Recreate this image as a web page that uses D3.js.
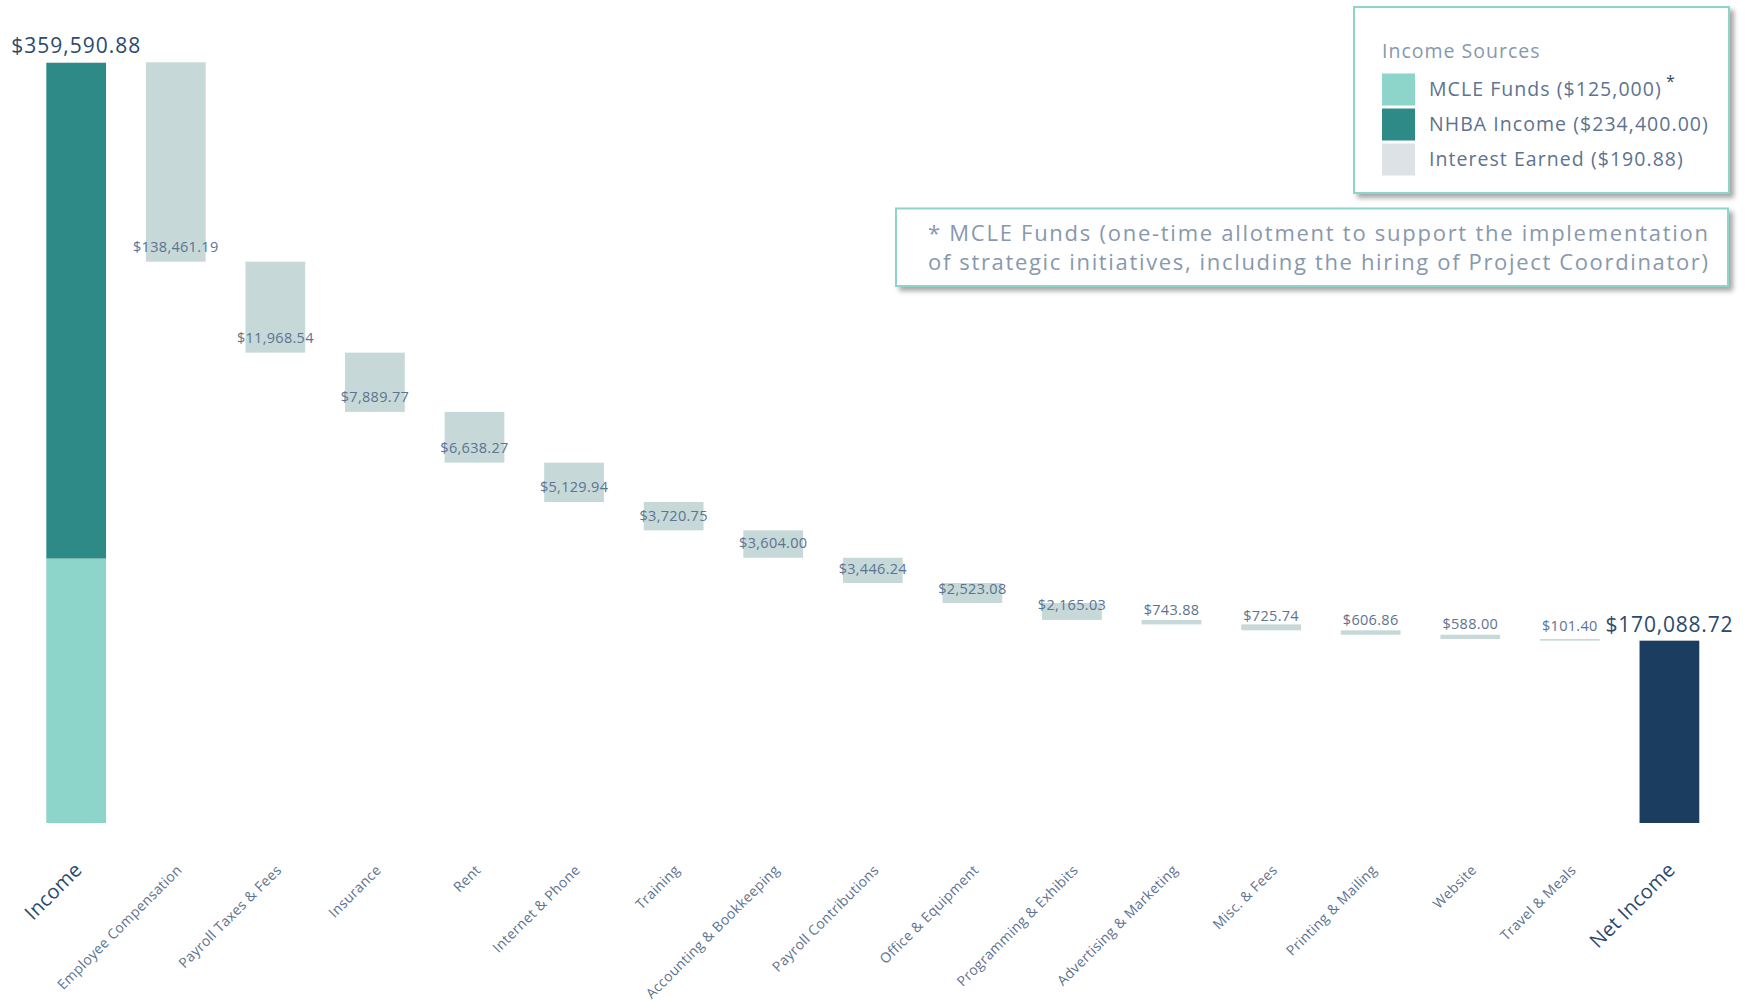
<!DOCTYPE html>
<html>
<head>
<meta charset="utf-8">
<script src="https://cdn.jsdelivr.net/npm/d3@7"></script>
<style>
  body { margin: 0; background: #fff; }
  svg { display: block; font-family: "Open Sans", sans-serif; }
</style>
</head>
<body>
<div id="chart"></div>
<script>
// categories along the x axis
const categories = ["Income", "Employee Compensation", "Payroll Taxes & Fees", "Insurance", "Rent",
    "Internet & Phone", "Training", "Accounting & Bookkeeping", "Payroll Contributions",
    "Office & Equipment", "Programming & Exhibits", "Advertising & Marketing", "Misc. & Fees",
    "Printing & Mailing", "Website", "Travel & Meals", "Net Income"];

// income stack (bottom to top)
const incomeSources = ["MCLE Funds ($125,000)", "NHBA Income ($234,400.00)", "Interest Earned ($190.88)"];
const incomeValues = [125000, 234400, 190.88];

// expense bar spans as drawn in the picture (the picture is not to scale with its labels)
const expenseDrawn = [94250, 43000, 28000, 24000, 18600, 13400, 12950, 11950, 9450, 8000, 2100, 2800, 2100, 2000, 800];
// expense labels as printed
const expenseLabels = ["$138,461.19", "$11,968.54", "$7,889.77", "$6,638.27", "$5,129.94", "$3,720.75",
    "$3,604.00", "$3,446.24", "$2,523.08", "$2,165.03", "$743.88", "$725.74", "$606.86", "$588.00", "$101.40"];

const totalLabel = "$359,590.88";
const netLabel = "$170,088.72";
const noteLines = ["* MCLE Funds (one-time allotment to support the implementation",
    "of strategic initiatives, including the hiring of Project Coordinator)"];

const W = 1749, H = 1003;
const colors = {
    mcle: "#8dd4cb", nhba: "#2e8a86", interest: "#dde2e6",
    expense: "#c6d9d8", net: "#1b3d60",
    text: "#5d7390", dark: "#2b4a6d", light: "#8798ae"
};
const incomeColors = [colors.mcle, colors.nhba, colors.interest];

const svg = d3.select("#chart").append("svg")
    .attr("width", W)
    .attr("height", H);

const defs = svg.append("defs");
const shadow = defs.append("filter").attr("id", "shadow")
    .attr("x", "-5%").attr("y", "-10%").attr("width", "115%").attr("height", "130%");
shadow.append("feDropShadow")
    .attr("dx", 4).attr("dy", 4).attr("stdDeviation", 2.5)
    .attr("flood-color", "#000").attr("flood-opacity", 0.35);

const x = d3.scaleBand()
    .domain(categories)
    .range([26.4, 1719.2])
    .paddingInner(0.4)
    .paddingOuter(0.2);

const totalIncome = d3.sum(incomeValues);
const y = d3.scaleLinear()
    .domain([0, totalIncome])
    .range([823, 62.3]);

// income stack
let acc = 0;
const incomeStack = incomeValues.map((v, i) => {
    const d = { y0: acc, y1: acc + v, color: incomeColors[i] };
    acc += v;
    return d;
});

svg.append("g").selectAll("rect")
    .data(incomeStack)
    .join("rect")
    .attr("x", x("Income"))
    .attr("width", x.bandwidth())
    .attr("y", d => y(d.y1))
    .attr("height", d => y(d.y0) - y(d.y1))
    .attr("fill", d => d.color);

// expense waterfall
let level = totalIncome;
const expenses = expenseDrawn.map((v, i) => {
    const d = { name: categories[i + 1], top: level, bottom: level - v, label: expenseLabels[i] };
    level -= v;
    return d;
});
const netValue = level;

const eg = svg.append("g");
eg.selectAll("rect")
    .data(expenses)
    .join("rect")
    .attr("x", d => x(d.name))
    .attr("width", x.bandwidth())
    .attr("y", d => y(d.top))
    .attr("height", d => Math.max(1.2, y(d.bottom) - y(d.top)))
    .attr("fill", colors.expense);

eg.selectAll("text")
    .data(expenses)
    .join("text")
    .attr("x", d => x(d.name) + x.bandwidth() / 2)
    .attr("y", d => y(d.bottom) - 9.5)
    .attr("text-anchor", "middle")
    .attr("font-size", 14.5)
    .attr("letter-spacing", 0.3)
    .attr("fill", colors.text)
    .text(d => d.label);

// net income bar
svg.append("rect")
    .attr("x", x("Net Income"))
    .attr("width", x.bandwidth())
    .attr("y", y(netValue))
    .attr("height", y(0) - y(netValue))
    .attr("fill", colors.net);

svg.append("text")
    .attr("x", x("Income") + x.bandwidth() / 2)
    .attr("y", y(totalIncome) - 9.5)
    .attr("text-anchor", "middle")
    .attr("font-size", 21)
    .attr("letter-spacing", 1)
    .attr("fill", colors.dark)
    .text(totalLabel);

svg.append("text")
    .attr("x", x("Net Income") + x.bandwidth() / 2)
    .attr("y", y(netValue) - 9)
    .attr("text-anchor", "middle")
    .attr("font-size", 21)
    .attr("letter-spacing", 0.8)
    .attr("fill", colors.dark)
    .text(netLabel);

// rotated category labels
const isTotal = i => i === 0 || i === categories.length - 1;
svg.append("g").selectAll("text")
    .data(categories)
    .join("text")
    .attr("transform", d => `translate(${x(d) + x.bandwidth() / 2 + 7},871) rotate(-45)`)
    .attr("text-anchor", "end")
    .attr("font-size", (d, i) => isTotal(i) ? 20 : 14)
    .attr("letter-spacing", 0.3)
    .attr("fill", (d, i) => isTotal(i) ? colors.dark : colors.text)
    .text(d => d);

// legend box
const lg = svg.append("g");
lg.append("rect")
    .attr("x", 1354).attr("y", 7)
    .attr("width", 375).attr("height", 186)
    .attr("fill", "#fff")
    .attr("stroke", colors.mcle)
    .attr("stroke-width", 2)
    .attr("filter", "url(#shadow)");
lg.append("text")
    .attr("x", 1382).attr("y", 58)
    .attr("font-size", 19.5)
    .attr("letter-spacing", 1)
    .attr("fill", colors.light)
    .text("Income Sources");
incomeSources.forEach((s, i) => {
    lg.append("rect")
        .attr("x", 1382).attr("y", 73.5 + i * 35)
        .attr("width", 33).attr("height", 32)
        .attr("fill", incomeColors[i]);
    lg.append("text")
        .attr("x", 1429).attr("y", 96 + i * 35)
        .attr("font-size", 19.5)
        .attr("letter-spacing", 1.05)
        .attr("fill", colors.text)
        .text(s);
});
lg.append("text")
    .attr("x", 1666).attr("y", 87)
    .attr("font-size", 16)
    .attr("fill", colors.dark)
    .text("*");

// footnote box
const ng = svg.append("g");
ng.append("rect")
    .attr("x", 896).attr("y", 208.5)
    .attr("width", 832).attr("height", 77.5)
    .attr("fill", "#fff")
    .attr("stroke", colors.mcle)
    .attr("stroke-width", 2)
    .attr("filter", "url(#shadow)");
noteLines.forEach((t, i) => {
    ng.append("text")
        .attr("x", 928).attr("y", 241 + i * 28.5)
        .attr("font-size", 22)
        .attr("fill", colors.light)
        .attr("textLength", 780)
        .attr("lengthAdjust", "spacing")
        .text(t);
});
</script>
</body>
</html>
